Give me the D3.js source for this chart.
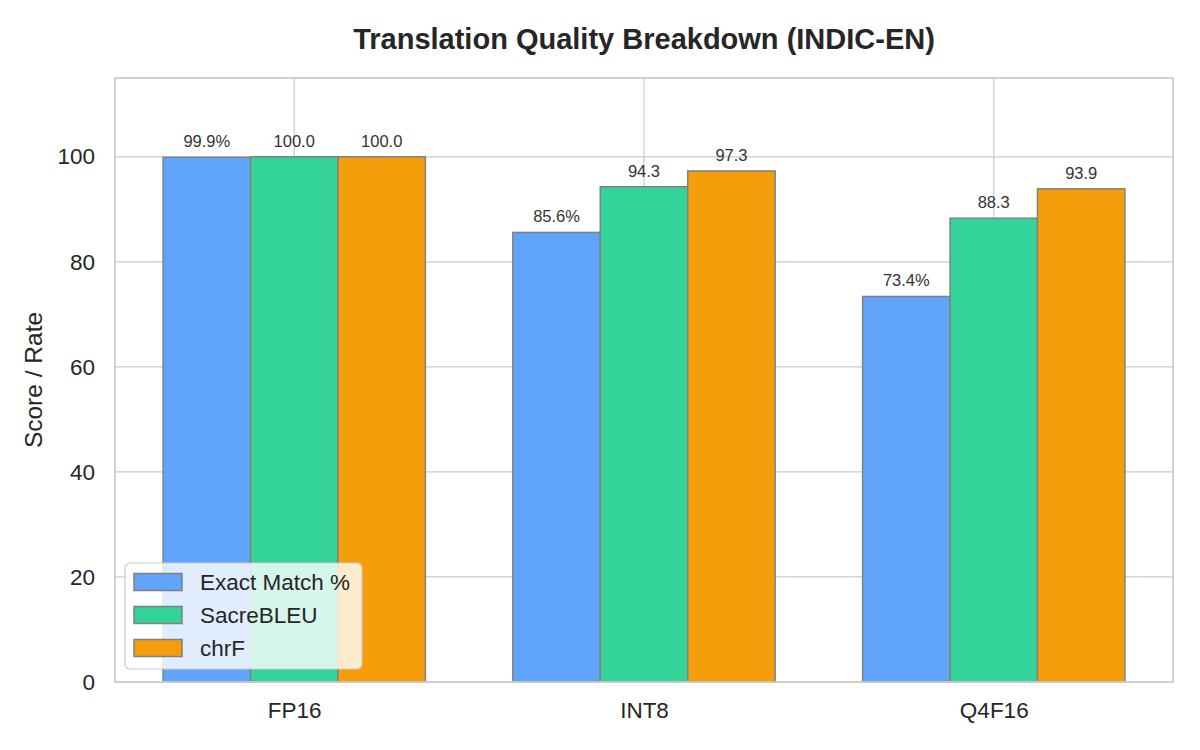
<!DOCTYPE html>
<html>
<head>
<meta charset="utf-8">
<script src="https://cdn.jsdelivr.net/npm/d3@7"></script>
<style>
  body { margin: 0; background: #fff; }
  text { font-family: "Liberation Sans", Arial, sans-serif; }
</style>
</head>
<body>
<div class="container"></div>
<script>
const width = 1200;
const height = 750;
const margin = { top: 78, bottom: 68, left: 115, right: 27 };

// data
const models = ["FP16", "INT8", "Q4F16"];
const series = ["Exact Match %", "SacreBLEU", "chrF"];
const exactMatch = [99.9, 85.6, 73.4];
const sacreBleu = [100.0, 94.3, 88.3];
const chrF = [100.0, 97.3, 93.9];
const colors = ["#60a5fa", "#34d399", "#f59e0b"];
const yTicks = [0, 20, 40, 60, 80, 100];

const values = [exactMatch, sacreBleu, chrF];
const barW = 0.25;

const svg = d3.select(".container")
    .append("svg")
    .attr("width", width)
    .attr("height", height);

const innerW = width - margin.left - margin.right;
const innerH = height - margin.top - margin.bottom;

// bars sit at x = 0,1,2 like matplotlib
const xScale = d3.scaleLinear()
    .domain([-0.5125, 2.5125])
    .range([0, innerW]);

const yScale = d3.scaleLinear()
    .domain([0, 115])
    .range([innerH, 0]);

const canvas = svg.append("g")
    .attr("transform", `translate(${margin.left}, ${margin.top})`);

// grid
canvas.append("g")
    .selectAll("line")
    .data(yTicks)
    .join("line")
    .attr("x1", 0).attr("x2", innerW)
    .attr("y1", d => yScale(d)).attr("y2", d => yScale(d))
    .attr("stroke", "#cccccc").attr("stroke-width", 1.2);

canvas.append("g")
    .selectAll("line")
    .data(models)
    .join("line")
    .attr("x1", (d, i) => xScale(i)).attr("x2", (d, i) => xScale(i))
    .attr("y1", 0).attr("y2", innerH)
    .attr("stroke", "#cccccc").attr("stroke-width", 1.2);

// bars + value labels
series.forEach((s, si) => {
    const off = (si - 1) * barW;
    canvas.append("g")
        .selectAll("rect")
        .data(values[si])
        .join("rect")
        .attr("x", (d, i) => xScale(i + off - barW / 2))
        .attr("y", d => yScale(d))
        .attr("width", xScale(barW) - xScale(0))
        .attr("height", d => yScale(0) - yScale(d))
        .attr("fill", colors[si])
        .attr("stroke", "#808080")
        .attr("stroke-width", 1.5);

    canvas.append("g")
        .selectAll("text")
        .data(values[si])
        .join("text")
        .attr("x", (d, i) => xScale(i + off))
        .attr("y", d => yScale(d) - 10)
        .attr("text-anchor", "middle")
        .attr("font-size", "16.5px")
        .attr("fill", "#333")
        .text(d => si === 0 ? d.toFixed(1) + "%" : d.toFixed(1));
});

// frame
canvas.append("rect")
    .attr("width", innerW).attr("height", innerH)
    .attr("fill", "none")
    .attr("stroke", "#cccccc").attr("stroke-width", 1.8);

// axes
const yAxis = d3.axisLeft(yScale).tickValues(yTicks).tickSize(0).tickPadding(20);
canvas.append("g")
    .call(yAxis)
    .call(g => g.select(".domain").remove())
    .selectAll("text")
    .attr("font-size", "22.5px")
    .attr("fill", "#262626");

const xAxis = d3.axisBottom(xScale).tickValues([0, 1, 2])
    .tickFormat(i => models[i]).tickSize(0).tickPadding(20);
canvas.append("g")
    .attr("transform", `translate(0, ${innerH})`)
    .call(xAxis)
    .call(g => g.select(".domain").remove())
    .selectAll("text")
    .attr("font-size", "22.5px")
    .attr("fill", "#262626");

// y label
svg.append("text")
    .attr("transform", `translate(42, 380) rotate(-90)`)
    .attr("text-anchor", "middle")
    .attr("font-size", "24.5px")
    .attr("fill", "#262626")
    .text("Score / Rate");

// title
svg.append("text")
    .attr("x", margin.left + innerW / 2)
    .attr("y", 49)
    .attr("text-anchor", "middle")
    .attr("font-size", "29px")
    .attr("font-weight", "bold")
    .attr("fill", "#262626")
    .text("Translation Quality Breakdown (INDIC-EN)");

// legend
const legend = svg.append("g").attr("transform", "translate(125, 563)");
legend.append("rect")
    .attr("width", 237).attr("height", 106)
    .attr("rx", 5)
    .attr("fill", "white").attr("fill-opacity", 0.8)
    .attr("stroke", "#cccccc").attr("stroke-width", 1.2);

series.forEach((s, si) => {
    const y = 19 + si * 33;
    legend.append("rect")
        .attr("x", 9).attr("y", y - 8.5)
        .attr("width", 48).attr("height", 17)
        .attr("fill", colors[si])
        .attr("stroke", "#808080").attr("stroke-width", 1.5);
    legend.append("text")
        .attr("x", 75).attr("y", y + 8)
        .attr("font-size", "22.5px")
        .attr("fill", "#262626")
        .text(s);
});
</script>
</body>
</html>
